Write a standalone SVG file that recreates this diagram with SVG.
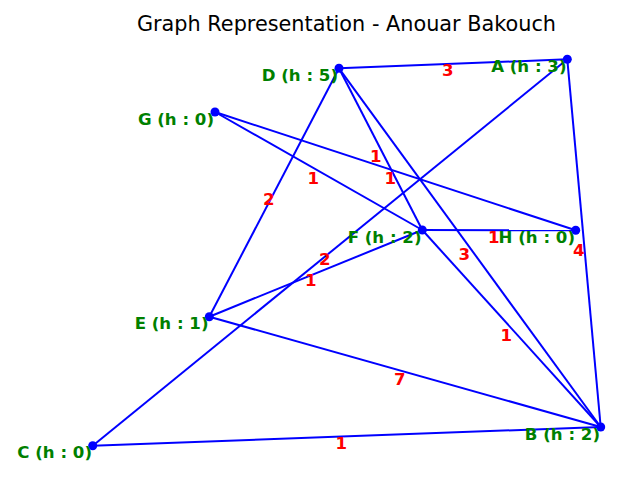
<svg xmlns="http://www.w3.org/2000/svg" width="640" height="480" viewBox="0 0 640 480">
<style>
.e{stroke:#0000ff;stroke-width:2;fill:none}
.n{fill:#0000ff}
.nl{font-family:"DejaVu Sans",sans-serif;font-weight:bold;font-size:16.6px;fill:#008000;text-anchor:end}
.el{font-family:"DejaVu Sans",sans-serif;font-weight:bold;font-size:16.6px;fill:#ff0000;text-anchor:end}
.t{font-family:"DejaVu Sans",sans-serif;font-size:20.8px;fill:#000000;text-anchor:middle}
</style>
<rect width="640" height="480" fill="#ffffff"/>
<text class="t" x="346.5" y="31">Graph Representation - Anouar Bakouch</text>
<g id="connectors">
<line class="e" x1="339" y1="68.3" x2="567.3" y2="59.3"/>
<line class="e" x1="339" y1="68.3" x2="209.3" y2="316.7"/>
<line class="e" x1="339" y1="68.3" x2="422.3" y2="230"/>
<line class="e" x1="339" y1="68.3" x2="600.7" y2="427"/>
<line class="e" x1="215" y1="112" x2="422.3" y2="230"/>
<line class="e" x1="215" y1="112" x2="575.7" y2="230.3"/>
<line class="e" x1="422.3" y1="230" x2="575.7" y2="230.3"/>
<line class="e" x1="567.3" y1="59.3" x2="600.7" y2="427"/>
<line class="e" x1="567.3" y1="59.3" x2="92.7" y2="445.7"/>
<line class="e" x1="209.3" y1="316.7" x2="422.3" y2="230"/>
<line class="e" x1="209.3" y1="316.7" x2="600.7" y2="427"/>
<line class="e" x1="92.7" y1="445.7" x2="600.7" y2="427"/>
<line class="e" x1="422.3" y1="230" x2="600.7" y2="427"/>
</g>
<g id="edge-labels">
<text class="el" x="453.5" y="76">3</text>
<text class="el" x="274.5" y="205">2</text>
<text class="el" x="381.5" y="162">1</text>
<text class="el" x="470" y="260">3</text>
<text class="el" x="319" y="184">1</text>
<text class="el" x="396" y="184">1</text>
<text class="el" x="499.5" y="243">1</text>
<text class="el" x="584.5" y="256">4</text>
<text class="el" x="330.5" y="265">2</text>
<text class="el" x="316.5" y="286">1</text>
<text class="el" x="405.5" y="385">7</text>
<text class="el" x="347" y="449">1</text>
<text class="el" x="512" y="341">1</text>
</g>
<g id="node-D"><circle class="n" cx="339" cy="68.3" r="4.5"/><text class="nl" x="338" y="80.5">D (h : 5)</text></g>
<g id="node-A"><circle class="n" cx="567.3" cy="59.3" r="4.5"/><text class="nl" x="566.5" y="71.5">A (h : 3)</text></g>
<g id="node-G"><circle class="n" cx="215" cy="112" r="4.5"/><text class="nl" x="214" y="124.5">G (h : 0)</text></g>
<g id="node-F"><circle class="n" cx="422.3" cy="230" r="4.5"/><text class="nl" x="421.5" y="242.5">F (h : 2)</text></g>
<g id="node-H"><circle class="n" cx="575.7" cy="230.3" r="4.5"/><text class="nl" x="575" y="242.5">H (h : 0)</text></g>
<g id="node-E"><circle class="n" cx="209.3" cy="316.7" r="4.5"/><text class="nl" x="208.5" y="329">E (h : 1)</text></g>
<g id="node-C"><circle class="n" cx="92.7" cy="445.7" r="4.5"/><text class="nl" x="92" y="458">C (h : 0)</text></g>
<g id="node-B"><circle class="n" cx="600.7" cy="427" r="4.5"/><text class="nl" x="600" y="439.5">B (h : 2)</text></g>
</svg>
